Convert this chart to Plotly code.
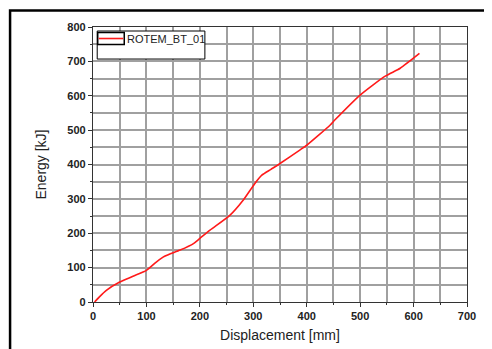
import plotly.graph_objects as go

displacement_mm = [3, 12, 25, 50, 75, 100, 119, 134, 163, 188, 200, 219, 256, 281, 303, 316, 333, 350, 387, 400, 444, 453, 500, 547, 575, 611]
energy_kj = [0, 15, 34, 58, 75, 92, 117, 133, 151, 170, 185, 209, 252, 296, 345, 369, 386, 403, 442, 456, 515, 530, 602, 657, 680, 723]
series_name = "ROTEM_BT_01"
x_ticks = [0, 100, 200, 300, 400, 500, 600, 700]
y_ticks = [0, 100, 200, 300, 400, 500, 600, 700, 800]

W, H = 492, 349
OFF = 8  # page body margin
L, R, T, B = 93.3 - OFF, 466.7 - OFF, 27 - OFF, 301.7 - OFF
pw, ph = R - L, B - T

def px(xp):
    return (xp - OFF - L) / pw

def py(yp):
    return (B - (yp - OFF)) / ph

fig = go.Figure()
fig.add_trace(go.Scatter(
    x=displacement_mm, y=energy_kj, mode="lines", name=series_name,
    line=dict(color="#ff1a1a", width=1.6, shape="spline", smoothing=0.6),
))

axis_common = dict(
    showline=True, linecolor="#333333", linewidth=1.2, mirror=True,
    showgrid=True, gridcolor="#a0a0a0", gridwidth=1.6,
    ticks="outside", ticklen=4, tickcolor="#333333", tickwidth=1.2,
    tickfont=dict(family="Liberation Sans, Arial", size=11, color="#222222", weight="bold"),
    zeroline=False,
    minor=dict(dtick=50, showgrid=True, gridcolor="#a0a0a0", gridwidth=1.6,
               ticks="outside", ticklen=2, tickcolor="#333333"),
)

fig.update_xaxes(range=[0, 700], tickvals=x_ticks, **axis_common,
                 title=dict(text="Displacement [mm]", standoff=8,
                            font=dict(family="Liberation Sans, Arial", size=14, color="#222222")))
fig.update_yaxes(range=[0, 800], tickvals=y_ticks, **axis_common,
                 title=dict(text="Energy [kJ]", standoff=17,
                            font=dict(family="Liberation Sans, Arial", size=14, color="#222222")))

shapes = [
    # outer frame (left and top edges visible)
    dict(type="rect", xref="paper", yref="paper", x0=px(10.5), x1=px(560), y0=py(420), y1=py(10.5),
         line=dict(color="black", width=2.5), fillcolor="rgba(0,0,0,0)", layer="above"),
    # legend box
    dict(type="rect", xref="paper", yref="paper", x0=px(97.5), x1=px(205), y0=py(59), y1=py(31),
         line=dict(color="black", width=1), fillcolor="white", layer="above"),
    # legend symbol box
    dict(type="rect", xref="paper", yref="paper", x0=px(98), x1=px(124.5), y0=py(44.5), y1=py(32.5),
         line=dict(color="black", width=1.5), fillcolor="rgba(0,0,0,0)", layer="above"),
    dict(type="line", xref="paper", yref="paper", x0=px(99), x1=px(123.5), y0=py(38.5), y1=py(38.5),
         line=dict(color="#ff1a1a", width=1.6), layer="above"),
]

fig.update_layout(
    width=W, height=H,
    margin=dict(l=L, r=W - R, t=T, b=H - B),
    paper_bgcolor="white", plot_bgcolor="white",
    showlegend=False,
    shapes=shapes,
    annotations=[dict(text=series_name, xref="paper", yref="paper", x=px(125.5), y=py(38.5),
                      xanchor="left", yanchor="middle", showarrow=False,
                      font=dict(family="Liberation Sans, Arial", size=11, color="#222222"))],
)

fig.write_html("out.html")
